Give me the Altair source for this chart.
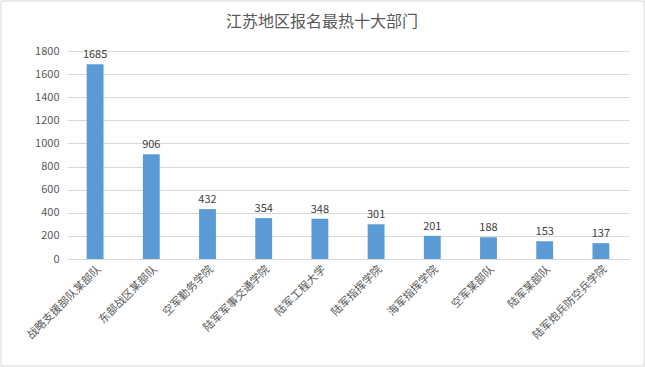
import altair as alt
import pandas as pd

departments = ["战略支援部队某部队", "东部战区某部队", "空军勤务学院", "陆军军事交通学院", "陆军工程大学",
               "陆军指挥学院", "海军指挥学院", "空军某部队", "陆军某部队", "陆军炮兵防空兵学院"]
counts = [1685, 906, 432, 354, 348, 301, 201, 188, 153, 137]
y_ticks = [0, 200, 400, 600, 800, 1000, 1200, 1400, 1600, 1800]
title_text = "江苏地区报名最热十大部门"

df = pd.DataFrame({"dept": departments, "count": counts})
FONT = "Noto Sans CJK SC"

base = alt.Chart(df).encode(
    x=alt.X("dept:N", sort=departments, title=None,
            scale=alt.Scale(paddingInner=0.7, paddingOuter=0.35),
            axis=alt.Axis(labelAngle=-45, labelFontSize=11, labelColor="#595959", labelFont=FONT,
                          domainColor="#D9D9D9", ticks=False, grid=False, labelPadding=4,
                          labelLimit=200)),
    y=alt.Y("count:Q", title=None,
            scale=alt.Scale(domain=[0, 1800], nice=False),
            axis=alt.Axis(values=y_ticks, format="d", labelFontSize=11, labelColor="#595959",
                          labelFont=FONT, domain=False, ticks=False, gridColor="#D9D9D9",
                          labelPadding=8)),
)

bars = base.mark_bar(color="#5B9BD5")
labels = base.mark_text(dy=-9, fontSize=11, color="#404040", font=FONT).encode(text="count:Q")

one = pd.DataFrame({"t": [title_text]})
frame = alt.Chart(one).mark_rect(
    filled=False, stroke="#D9D9D9", strokeWidth=1
).encode(x=alt.value(-66), x2=alt.value(577), y=alt.value(-50), y2=alt.value(315))

title = alt.Chart(one).mark_text(
    fontSize=16, color="#595959", font=FONT, baseline="middle", align="center"
).encode(text="t:N", x=alt.value(255), y=alt.value(-29))

chart = (frame + title + bars + labels).properties(
    width=562, height=208,
    autosize=alt.AutoSizeParams(type="none"),
    padding={"left": 67, "top": 51, "right": 16, "bottom": 108},
    view=alt.ViewBackground(strokeWidth=0, stroke="transparent"),
).configure_view(
    strokeWidth=0, stroke="transparent"
).configure_axisX(grid=False).configure(background="white")

chart.save("out.html", embed_options={"renderer": "svg", "actions": False})
